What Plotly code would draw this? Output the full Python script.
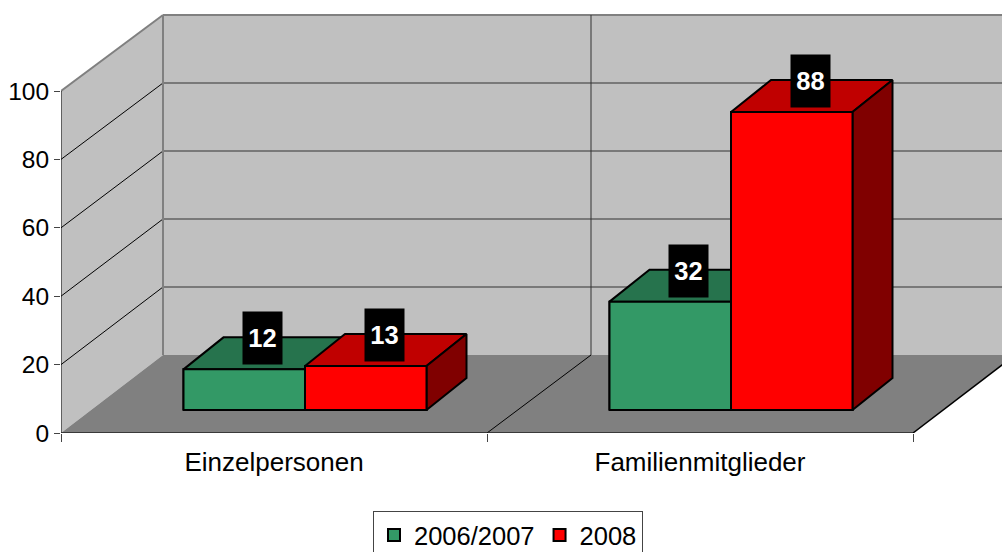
import plotly.graph_objects as go

categories = ["Einzelpersonen", "Familienmitglieder"]
series_names = ["2006/2007", "2008"]
values_2006 = [12, 32]
values_2008 = [13, 88]
y_ticks = [0, 20, 40, 60, 80, 100]

FRONT = ["#339966", "#FF0000"]
TOP = ["#26734D", "#C00000"]
SIDE = ["#1A4D33", "#800000"]

PX_X = 426.0   # pixels per category
PX_Y = 3.42    # pixels per value unit
W, H = 1002, 552
L, B = 61, 119


def ox(px):
    return px / PX_X


def oy(px):
    return px / PX_Y


WALL_DX, WALL_DY = ox(102), oy(78)     # depth of the walls
BAR_OX, BAR_OY = ox(31), oy(23)        # front of the bars, behind the front plane
BAR_DX, BAR_DY = ox(40), oy(32)        # depth of a bar
BAR_W = 121.5 / PX_X
Y_SHRINK = 0.99
XMAX = (W - L) / PX_X
YMAX = (H - B) / PX_Y
WALL_TOP = 100 * 340 / 342
MID_WALL_X = 1 + ox(104)

fig = go.Figure()

# walls and floor
shapes = []


def poly(xs, ys, fill):
    path = "M" + "L".join(f"{x:.5f},{y:.5f}" for x, y in zip(xs, ys)) + "Z"
    shapes.append(dict(type="path", path=path, fillcolor=fill, line_width=0, layer="below"))


poly([0, WALL_DX, WALL_DX, 0], [0, WALL_DY, WALL_DY + WALL_TOP, 100], "#C0C0C0")
poly([WALL_DX, XMAX + 0.1, XMAX + 0.1, WALL_DX], [WALL_DY, WALL_DY, WALL_DY + WALL_TOP, WALL_DY + WALL_TOP], "#C0C0C0")
poly([0, 2, 2 + WALL_DX, 2 + WALL_DX, WALL_DX], [0, 0, WALL_DY, WALL_DY, WALL_DY], "#808080")


def line(xs, ys, color="#000000", width=1):
    fig.add_trace(go.Scatter(x=xs, y=ys, mode="lines", line=dict(color=color, width=width),
                             showlegend=False, hoverinfo="skip", cliponaxis=True))


# legend-bearing bars
for i, (name, vals) in enumerate(zip(series_names, [values_2006, values_2008])):
    xs = [c + 0.5 + BAR_OX + (i - 0.5) * BAR_W for c in range(len(categories))]
    fig.add_trace(go.Bar(x=xs, y=[v * Y_SHRINK for v in vals], base=[BAR_OY] * len(vals), width=BAR_W, name=name,
                         marker=dict(color=FRONT[i], line=dict(color="#000000", width=2)),
                         hoverinfo="skip"))

# grid on the walls
for t in y_ticks[1:]:
    yb = WALL_DY + t * 340 / 342
    line([0, WALL_DX], [t, yb], "#000000" if t < 100 else "#808080", 1 if t < 100 else 2)
    line([WALL_DX, XMAX], [yb, yb], "#333333" if t < 100 else "#808080", 1 if t < 100 else 2)
line([WALL_DX, WALL_DX], [WALL_DY, WALL_DY + WALL_TOP], "#808080", 2)
line([MID_WALL_X, MID_WALL_X], [WALL_DY, WALL_DY + WALL_TOP], "#333333", 1)
line([1, MID_WALL_X], [0, WALL_DY], "#000000", 1)
line([2, 2 + WALL_DX], [0, WALL_DY], "#000000", 1.5)


def face(xs, ys, fill):
    fig.add_trace(go.Scatter(x=xs + xs[:1], y=ys + ys[:1], mode="lines", fill="toself", fillcolor=fill,
                             line=dict(color="#000000", width=2), showlegend=False, hoverinfo="skip"))


annotations = []
for c in range(len(categories)):
    for i, vals in enumerate([values_2006, values_2008]):
        x0 = c + 0.5 + BAR_OX + (i - 1) * BAR_W
        x1 = x0 + BAR_W
        y0 = BAR_OY
        y1 = BAR_OY + vals[c] * Y_SHRINK
        face([x0, x1, x1 + BAR_DX, x0 + BAR_DX], [y1, y1, y1 + BAR_DY, y1 + BAR_DY], TOP[i])
        face([x1, x1 + BAR_DX, x1 + BAR_DX, x1], [y0, y0 + BAR_DY, y1 + BAR_DY, y1], SIDE[i])
        face([x0, x1, x1, x0], [y0, y0, y1, y1], FRONT[i])
        annotations.append(dict(x=(x0 + x1) / 2 + ox(18.5), y=y1 + oy(31), xref="x", yref="y", text=f"<b>{vals[c]}</b>",
                                showarrow=False, bgcolor="#000000", width=39, height=52,
                                xanchor="center", yanchor="middle", valign="middle", align="center", borderpad=0,
                                font=dict(family="Liberation Sans", size=25.5, color="#FFFFFF")))

# axis lines, not clipped at the plot edge
fig.add_trace(go.Scatter(x=[0, 0], y=[0, 100], mode="lines", line=dict(color="#000000", width=1),
                         showlegend=False, hoverinfo="skip", cliponaxis=False))
fig.add_trace(go.Scatter(x=[0, 2], y=[0, 0], mode="lines", line=dict(color="#222222", width=1.5),
                         showlegend=False, hoverinfo="skip", cliponaxis=False))

fig.update_layout(
    width=W, height=H, autosize=False,
    margin=dict(l=L, r=0, t=0, b=B, pad=0, autoexpand=False),
    paper_bgcolor="#FFFFFF", plot_bgcolor="#FFFFFF",
    font=dict(family="Liberation Sans", size=25.5, color="#000000"),
    barmode="overlay", shapes=shapes, annotations=annotations, showlegend=True,
    xaxis=dict(range=[0, XMAX], tickmode="array", tickvals=[0.5, 1.5], ticktext=categories,
               tickfont=dict(size=26), showgrid=False, zeroline=False, showline=False, ticks="", ticklabelstandoff=11,
               automargin=False,
               minor=dict(tickmode="array", tickvals=[0, 1, 2], ticks="outside", ticklen=8, tickcolor="#444444", tickwidth=1, showgrid=False)),
    yaxis=dict(range=[0, YMAX], tickmode="array", tickvals=y_ticks, showgrid=False, zeroline=False, showline=False,
               automargin=False,
               tickfont=dict(size=24.5), ticks="outside", ticklen=6, tickcolor="#444444", tickwidth=1, ticklabelstandoff=0),
    legend=dict(orientation="h", x=(373 - L) / (W - L), xanchor="left", y=-(511 - (H - B)) / (H - B), yanchor="top",
                bgcolor="#FFFFFF", bordercolor="#444444", borderwidth=1, traceorder="normal",
                itemclick=False, itemdoubleclick=False),
)
fig.write_html("out.html", config=dict(displayModeBar=False),
               post_script="document.body.style.margin='0';document.documentElement.style.overflow='hidden';")
